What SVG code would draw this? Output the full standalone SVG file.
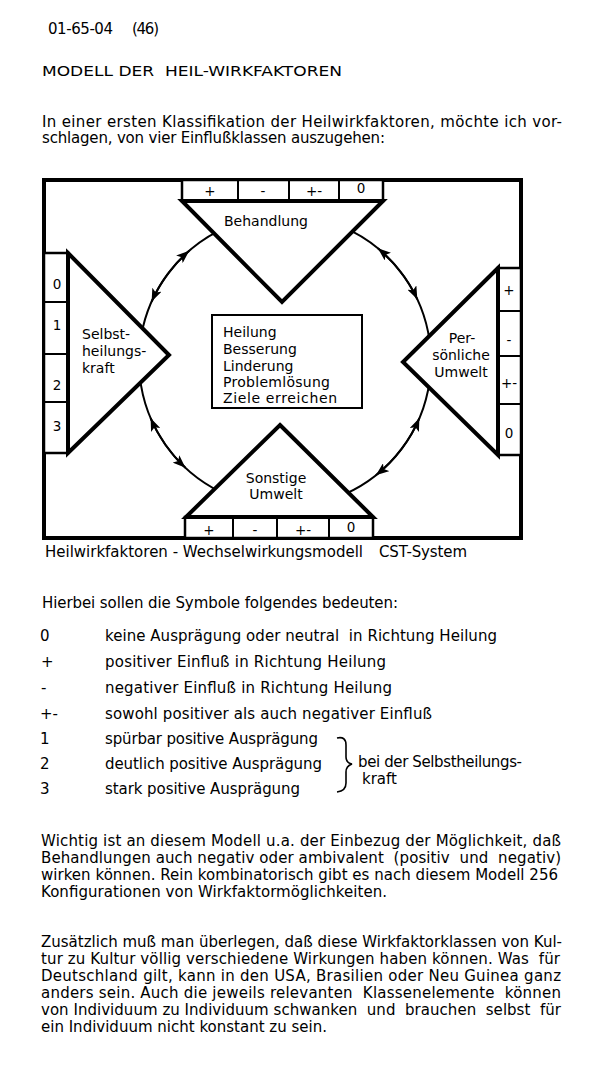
<svg xmlns="http://www.w3.org/2000/svg" width="600" height="1069" viewBox="0 0 600 1069">
<style>
text { font-family: "DejaVu Sans", "Liberation Sans", sans-serif; fill: #000; }
.body { font-size: 15px; }
.lab { font-size: 14px; }
.mid { text-anchor: middle; }
.cell { font-size: 13.5px; text-anchor: middle; }
.frame { fill: none; stroke: #000; stroke-width: 4; }
.tri { fill: #fff; stroke: #000; stroke-width: 4; stroke-linejoin: miter; }
.strip { fill: #fff; stroke: #000; stroke-width: 2.5; }
.div { stroke: #000; stroke-width: 2; }
.box { fill: #fff; stroke: #000; stroke-width: 2; }
.arc { fill: none; stroke: #000; stroke-width: 2; }
.carrier { fill: none; stroke: #000; stroke-width: 2; marker-end: url(#ah); }
.brace { fill: none; stroke: #000; stroke-width: 1.6; }
</style>
<defs>
<marker id="ah" markerUnits="userSpaceOnUse" markerWidth="14" markerHeight="10" refX="13" refY="5" orient="auto" viewBox="0 0 14 10">
<path d="M0,0 L13,5 L0,10 L3,5 Z" fill="#000"/>
</marker>
</defs>
<rect width="600" height="1069" fill="#fff"/>

<g id="header">
<text class="body" y="34"><tspan x="48" textLength="65">01-65-04</tspan><tspan x="132" textLength="27">(46)</tspan></text>
<text class="lab" x="42" y="76" textLength="300" lengthAdjust="spacingAndGlyphs" xml:space="preserve">MODELL DER  HEIL-WIRKFAKTOREN</text>
<text class="body" x="42" y="127" textLength="520">In einer ersten Klassifikation der Heilwirkfaktoren, möchte ich vor-</text>
<text class="body" x="42" y="143" textLength="343">schlagen, von vier Einflußklassen auszugehen:</text>
</g>

<rect id="frame" class="frame" x="44" y="180" width="477" height="358"/>

<g id="connectors">
<g id="c-behandlung-selbst">
<path class="arc" d="M218.72,230.91 A146,146 0 0 0 141.22,335.65"/>
<path class="carrier" d="M169.95,271.11 A146,146 0 0 1 189.22,250.81"/>
<path class="carrier" d="M169.95,271.11 A146,146 0 0 0 151.62,301.62"/>
</g>
<g id="c-behandlung-persoenlich">
<path class="arc" d="M351.28,230.91 A146,146 0 0 1 429.58,340.68"/>
<path class="carrier" d="M400.05,271.11 A146,146 0 0 0 377.87,248.34"/>
<path class="carrier" d="M400.05,271.11 A146,146 0 0 1 417.32,299.30"/>
</g>
<g id="c-persoenlich-sonstige">
<path class="arc" d="M429.58,381.32 A146,146 0 0 1 344.38,494.38"/>
<path class="carrier" d="M401.60,448.87 A146,146 0 0 0 419.39,418.05"/>
<path class="carrier" d="M401.60,448.87 A146,146 0 0 1 375.89,475.26"/>
</g>
<g id="c-selbst-sonstige">
<path class="arc" d="M139.80,376.26 A146,146 0 0 0 221.00,492.22"/>
<path class="carrier" d="M165.40,444.74 A146,146 0 0 1 150.61,418.05"/>
<path class="carrier" d="M165.40,444.74 A146,146 0 0 0 185.43,467.78"/>
</g>
</g>

<g id="behandlung">
<rect class="strip" x="182" y="180" width="201" height="21"/>
<line class="div" x1="238" y1="180" x2="238" y2="201"/>
<line class="div" x1="289" y1="180" x2="289" y2="201"/>
<line class="div" x1="339" y1="180" x2="339" y2="201"/>
<text class="cell" x="210" y="196">+</text>
<text class="cell" x="263" y="196">-</text>
<text class="cell" x="314" y="196">+-</text>
<text class="cell" x="361" y="193">0</text>
<path class="tri" d="M182,201 L383,201 L282,302 Z"/>
<text class="lab mid" x="266" y="226">Behandlung</text>
</g>

<g id="selbstheilungskraft">
<rect class="strip" x="44" y="253" width="24" height="200"/>
<line class="div" x1="44" y1="302" x2="68" y2="302"/>
<line class="div" x1="44" y1="354" x2="68" y2="354"/>
<line class="div" x1="44" y1="402" x2="68" y2="402"/>
<text class="cell" x="57" y="289">0</text>
<text class="cell" x="57" y="330">1</text>
<text class="cell" x="57" y="390">2</text>
<text class="cell" x="57" y="431">3</text>
<path class="tri" d="M68,253 L169,355 L68,453 Z"/>
<text class="lab" x="82" y="339">Selbst-</text>
<text class="lab" x="82" y="356">heilungs-</text>
<text class="lab" x="82" y="373">kraft</text>
</g>

<g id="persoenliche-umwelt">
<rect class="strip" x="498" y="268" width="23" height="187"/>
<line class="div" x1="498" y1="311" x2="521" y2="311"/>
<line class="div" x1="498" y1="356" x2="521" y2="356"/>
<line class="div" x1="498" y1="404" x2="521" y2="404"/>
<text class="cell" x="509" y="295">+</text>
<text class="cell" x="509" y="345">-</text>
<text class="cell" x="509" y="388">+-</text>
<text class="cell" x="509" y="438">0</text>
<path class="tri" d="M498,268 L403,362 L498,455 Z"/>
<text class="lab mid" x="462" y="343">Per-</text>
<text class="lab mid" x="461" y="360">sönliche</text>
<text class="lab mid" x="461" y="377">Umwelt</text>
</g>

<g id="sonstige-umwelt">
<rect class="strip" x="185" y="517" width="188" height="21"/>
<line class="div" x1="233" y1="517" x2="233" y2="538"/>
<line class="div" x1="277" y1="517" x2="277" y2="538"/>
<line class="div" x1="329" y1="517" x2="329" y2="538"/>
<text class="cell" x="209" y="535">+</text>
<text class="cell" x="255" y="535">-</text>
<text class="cell" x="303" y="535">+-</text>
<text class="cell" x="351" y="532">0</text>
<path class="tri" d="M280,425 L373,517 L186,517 Z"/>
<text class="lab mid" x="276" y="483">Sonstige</text>
<text class="lab mid" x="276" y="499">Umwelt</text>
</g>

<g id="heilung-ziele">
<rect class="box" x="212" y="315" width="150" height="93"/>
<text class="lab" x="223" y="337" font-size="14.5">Heilung</text>
<text class="lab" x="223" y="354" font-size="14.5">Besserung</text>
<text class="lab" x="223" y="371" font-size="14.5">Linderung</text>
<text class="lab" x="223" y="387" font-size="14.5" textLength="107">Problemlösung</text>
<text class="lab" x="223" y="403" font-size="14.5" textLength="114">Ziele erreichen</text>
</g>

<g id="caption">
<text class="body" y="557"><tspan x="45" textLength="318">Heilwirkfaktoren - Wechselwirkungsmodell</tspan><tspan x="379" textLength="88">CST-System</tspan></text>
</g>

<g id="legend">
<text class="body" x="42" y="608" textLength="356">Hierbei sollen die Symbole folgendes bedeuten:</text>
<text class="body" x="40" y="641">0</text>
<text class="body" x="105" y="641" textLength="392" xml:space="preserve">keine Ausprägung oder neutral  in Richtung Heilung</text>
<text class="body" x="41" y="667">+</text>
<text class="body" x="105" y="667" textLength="281">positiver Einfluß in Richtung Heilung</text>
<text class="body" x="41" y="693">-</text>
<text class="body" x="105" y="693" textLength="287">negativer Einfluß in Richtung Heilung</text>
<text class="body" x="40" y="719">+-</text>
<text class="body" x="105" y="719" textLength="327">sowohl positiver als auch negativer Einfluß</text>
<text class="body" x="40" y="744">1</text>
<text class="body" x="105" y="744" textLength="213">spürbar positive Ausprägung</text>
<text class="body" x="40" y="769">2</text>
<text class="body" x="105" y="769" textLength="217">deutlich positive Ausprägung</text>
<text class="body" x="40" y="794">3</text>
<text class="body" x="105" y="794" textLength="195">stark positive Ausprägung</text>
<path class="brace" d="M337,738 Q346,736 346,745 L346,757 Q346,763 352,764 Q346,766 346,772 L346,783 Q346,791 337,792"/>
<text class="body" x="358" y="767" textLength="164">bei der Selbstheilungs-</text>
<text class="body" x="362" y="784">kraft</text>
</g>

<g id="text-body">
<text class="body" x="41" y="846" textLength="520">Wichtig ist an diesem Modell u.a. der Einbezug der Möglichkeit, daß</text>
<text class="body" x="41" y="863" textLength="520" xml:space="preserve">Behandlungen auch negativ oder ambivalent  (positiv  und  negativ)</text>
<text class="body" x="41" y="880" textLength="517">wirken können. Rein kombinatorisch gibt es nach diesem Modell 256</text>
<text class="body" x="41" y="897" textLength="346">Konfigurationen von Wirkfaktormöglichkeiten.</text>
<text class="body" x="41" y="947" textLength="521">Zusätzlich muß man überlegen, daß diese Wirkfaktorklassen von Kul-</text>
<text class="body" x="41" y="964" textLength="519" xml:space="preserve">tur zu Kultur völlig verschiedene Wirkungen haben können. Was  für</text>
<text class="body" x="41" y="981" textLength="520">Deutschland gilt, kann in den USA, Brasilien oder Neu Guinea ganz</text>
<text class="body" x="41" y="998" textLength="520" xml:space="preserve">anders sein. Auch die jeweils relevanten  Klassenelemente  können</text>
<text class="body" x="41" y="1015" textLength="520" xml:space="preserve">von Individuum zu Individuum schwanken  und  brauchen  selbst  für</text>
<text class="body" x="41" y="1032" textLength="286">ein Individuum nicht konstant zu sein.</text>
</g>
</svg>
